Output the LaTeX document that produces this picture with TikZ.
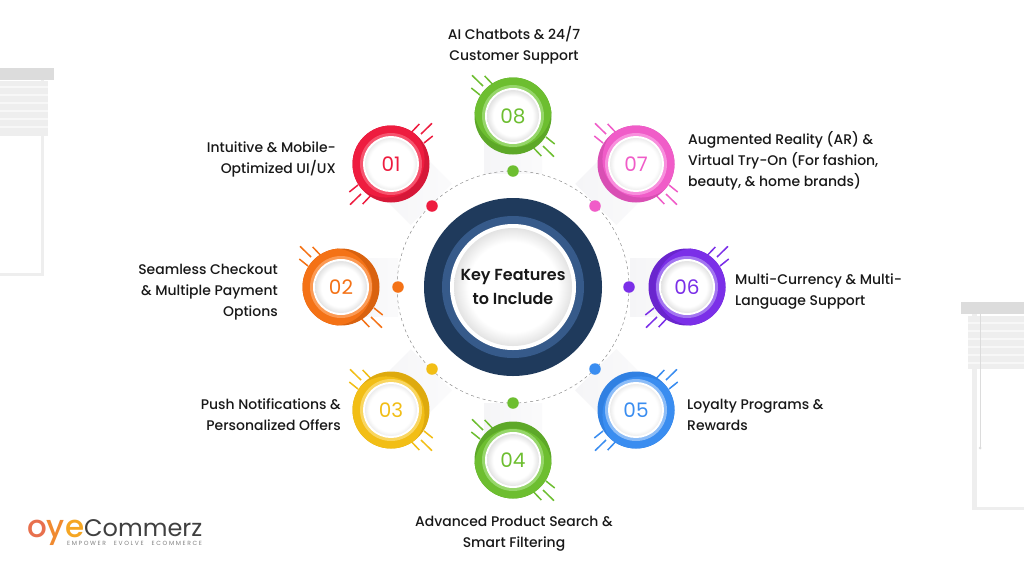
\documentclass[tikz,border=0pt]{standalone}
\usepackage{fontspec}
\setmainfont{Poppins}[UprightFont=* Medium]
\newfontfamily\numfont{Poppins}
\newfontfamily\hubfont{Poppins}[UprightFont=* SemiBold]
\newfontfamily\tagfont{Poppins}[LetterSpace=27,WordSpace=2.5]
\usepackage{xcolor}
\usepackage{tikz}
\definecolor{navycol}{RGB}{31,58,92}
\definecolor{steelcol}{RGB}{54,90,138}
\definecolor{bandcol}{RGB}{245,245,247}
\definecolor{barcol}{RGB}{220,220,220}
\definecolor{slatcol}{RGB}{238,238,238}
\definecolor{inkcol}{RGB}{24,24,24}
\definecolor{redcol}{RGB}{238,28,63}
\definecolor{reddark}{RGB}{214,24,56}
\definecolor{redlite}{RGB}{246,84,110}
\definecolor{orangecol}{RGB}{244,114,22}
\definecolor{orangedark}{RGB}{217,98,15}
\definecolor{orangelite}{RGB}{251,154,84}
\definecolor{yellowcol}{RGB}{242,190,22}
\definecolor{yellowdark}{RGB}{222,170,14}
\definecolor{yellowlite}{RGB}{249,214,97}
\definecolor{greencol}{RGB}{109,190,48}
\definecolor{greendark}{RGB}{93,168,40}
\definecolor{greenlite}{RGB}{150,214,106}
\definecolor{bluecol}{RGB}{58,141,240}
\definecolor{bluedark}{RGB}{48,128,226}
\definecolor{bluelite}{RGB}{141,189,247}
\definecolor{purplecol}{RGB}{123,47,232}
\definecolor{purpledark}{RGB}{106,37,206}
\definecolor{purplelite}{RGB}{163,118,240}
\definecolor{pinkcol}{RGB}{240,92,200}
\definecolor{pinkdark}{RGB}{217,79,180}
\definecolor{pinklite}{RGB}{248,143,221}
\definecolor{oyea}{RGB}{232,112,77}
\definecolor{oyeb}{RGB}{240,138,48}
\definecolor{oyec}{RGB}{245,166,35}
\pgfdeclareradialshading{softdisk}{\pgfpoint{0bp}{0bp}}{%
  color(0bp)=(white); color(19bp)=(white); color(25bp)=(black!11); color(50bp)=(black!11)}

\begin{document}
\begin{tikzpicture}[
  x=1pt, y=-1pt,
  feature/.style={font=\fontsize{13.95}{21}\selectfont, text=inkcol, inner sep=0pt},
  leftlabel/.style={feature, align=right, anchor=east},
  rightlabel/.style={feature, align=left, anchor=west},
  toplabel/.style={feature, align=center},
  corelabel/.style={circle, minimum size=52pt, inner sep=0pt, font=\numfont\fontsize{20}{20}\selectfont},
  dotmark/.style={circle, minimum size=11.5pt, inner sep=0pt},
  tick/.style={line width=1.5pt}
]
  \useasboundingbox (0,0) rectangle (1024,576);
  \fill[white] (0,0) rectangle (1024,576);

  % left window
  \fill[slatcol] (41,80) rectangle (44,276);
  \fill[slatcol] (0,273) rectangle (44,276);
  \fill[slatcol] (0,81) rectangle (48,136);
  \foreach \ypos in {86,94,102,110,118,126}
    \fill[white!50!slatcol] (0,\ypos) rectangle (48,\ypos+2);
  \fill[barcol] (0,68) rectangle (54,80);

  % right window
  \fill[slatcol] (972,314) rectangle (977,510);
  \fill[slatcol] (972,507) rectangle (1024,510);
  \fill[slatcol] (968,316) rectangle (1024,369);
  \foreach \ypos in {322,330,338,346,354,362}
    \fill[white!50!slatcol] (968,\ypos) rectangle (1024,\ypos+2);
  \draw[barcol, line width=0.7pt] (980,314) -- (980,448);
  \fill[barcol] (980,448) circle (1.5);
  \fill[barcol] (961,302) rectangle (1024,314);

  % soft bands behind the badges
  \foreach \xpos/\ypos/\ang in {391/164/-45, 341/287/0, 391/410/45, 513/460/90,
                                636/410/135, 687/287/180, 636/164/225, 513/116/270}
    \shade[left color=bandcol, right color=bandcol!45, shift={(\xpos,\ypos)}, rotate=\ang] (0,-29) rectangle (57,29);

  \draw[black!45, dashed, line width=0.5pt] (513,287) circle (116);

  % badges
  \foreach \nm/\xpos/\ypos/\ang/\flip/\col in {1/391/164/-45/-1/red, 2/341/287/0/1/orange,
      3/391/410/45/1/yellow, 4/513/460/90/1/green, 5/636/410/135/-1/blue,
      6/687/287/180/-1/purple, 7/636/164/225/1/pink, 8/513/116/270/1/green} {
    \foreach \sgn in {1,-1}
      \draw[tick, \col col, shift={(\xpos,\ypos)}, xscale=\sgn*\flip, yscale=\sgn]
        (33,21) -- (41.7,28) (30,30) -- (41,40.7) (20.7,32) -- (28.3,40);
    \begin{scope}[shift={(\xpos,\ypos)}, rotate=\ang]
      \fill[\col dark] (0,0) circle (38.5);
      \begin{scope}
        \clip (0,0) circle (38.5);
        \fill[\col col] (-7,0) circle (38.5);
      \end{scope}
      \fill[\col lite] (0,0) circle (31);
      \fill[white] (0,0) circle (28);
      \shade[shading=softdisk] (0,0) circle (26);
    \end{scope}
    \node[corelabel, text=\col col] (badge\nm) at (\xpos,\ypos) {0\nm};
  }

  % dots on the dashed ring
  \node[dotmark, fill=redcol] (dot1) at (432,206) {};
  \node[dotmark, fill=orangecol] (dot2) at (398,287) {};
  \node[dotmark, fill=yellowcol] (dot3) at (432,369) {};
  \node[dotmark, fill=greencol] (dot4) at (513,403) {};
  \node[dotmark, fill=bluecol] (dot5) at (595,369) {};
  \node[dotmark, fill=purplecol] (dot6) at (629,287) {};
  \node[dotmark, fill=pinkcol] (dot7) at (595,206) {};
  \node[dotmark, fill=greencol] (dot8) at (513,171) {};

  % hub
  \fill[navycol] (513,287) circle (89);
  \fill[steelcol] (513,287) circle (71);
  \fill[white] (513,287) circle (63);
  \shade[shading=softdisk] (513,287) circle (59);
  \node[feature, align=center, font=\hubfont\fontsize{16}{23.5}\selectfont] (hub) at (513,287) {Key Features\\to Include};

  % feature texts
  \node[leftlabel] (text1) at (336,159) {Intuitive \& Mobile-\\Optimized UI/UX};
  \node[leftlabel] (text2) at (278,292) {Seamless Checkout\\\& Multiple Payment\\Options};
  \node[leftlabel] (text3) at (341,415) {Push Notifications \&\\Personalized Offers};
  \node[toplabel] (text4) at (514,534) {Advanced Product Search \&\\Smart Filtering};
  \node[rightlabel] (text5) at (687,415) {Loyalty Programs \&\\Rewards};
  \node[rightlabel] (text6) at (735,292) {Multi-Currency \& Multi-\\Language Support};
  \node[rightlabel] (text7) at (688,161) {Augmented Reality (AR) \&\\Virtual Try-On (For fashion,\\beauty, \& home brands)};
  \node[toplabel] (text8) at (514,45) {AI Chatbots \& 24/7\\Customer Support};

  % logo
  \node[anchor=base west, inner sep=0pt, text depth=0pt, font=\fontsize{31}{31}\selectfont] (logoa) at (27,537)
    {\textcolor{oyea}{o}\textcolor{oyeb}{y}\textcolor{oyec}{e}};
  \node[anchor=base west, inner sep=0pt, text depth=0pt, text=black!75, font=\numfont\fontsize{24}{24}\selectfont] (logob) at (84,536) {Commerz};
  \node[anchor=base west, inner sep=0pt, text depth=0pt, text=black!50, font=\tagfont\fontsize{6}{6}\selectfont] (logoc) at (67,545) {EMPOWER EVOLVE ECOMMERCE};
\end{tikzpicture}
\end{document}
